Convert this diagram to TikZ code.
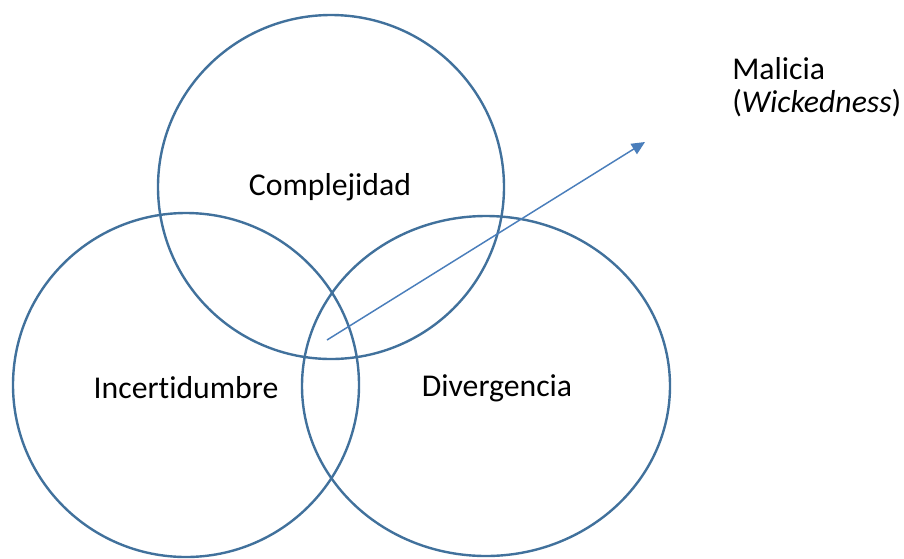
\documentclass[tikz,border=0pt]{standalone}
\usepackage{fontspec}
\setmainfont{Carlito}[Ligatures=NoCommon]
\usetikzlibrary{shapes.geometric,arrows.meta}
\definecolor{ringblue}{HTML}{41719C}
\definecolor{arrowblue}{HTML}{4A7EBB}
\begin{document}
\begin{tikzpicture}[x=0.75pt,y=-0.75pt,
  ring/.style={draw=ringblue,line width=1.8pt,ellipse,inner sep=0pt,outer sep=0pt},
  lbl/.style={font=\fontsize{23.8}{24.5}\selectfont,inner sep=0pt}]
\useasboundingbox (0,0) rectangle (904,558);
\node[ring,minimum width=346*0.75pt,minimum height=344*0.75pt] (top) at (331,187) {};
\node[ring,minimum width=346*0.75pt,minimum height=344*0.75pt] (left) at (186,385) {};
\node[ring,minimum width=368*0.75pt,minimum height=340*0.75pt] (right) at (486,386) {};
\node[lbl] (c) at (330,187) {Complejidad};
\node[lbl] (i) at (186,388) {Incertidumbre};
\node[lbl] (d) at (497,388) {Divergencia};
\node[lbl,anchor=west,align=left] (m) at (732,87) {Malicia\\(\textit{Wickedness})};
\coordinate (s) at (327,340);
\coordinate (e) at (645,142);
\draw[arrowblue,line width=1.1pt,-{Triangle[length=10pt,width=9pt]}] (s) -- (e);
\end{tikzpicture}
\end{document}
